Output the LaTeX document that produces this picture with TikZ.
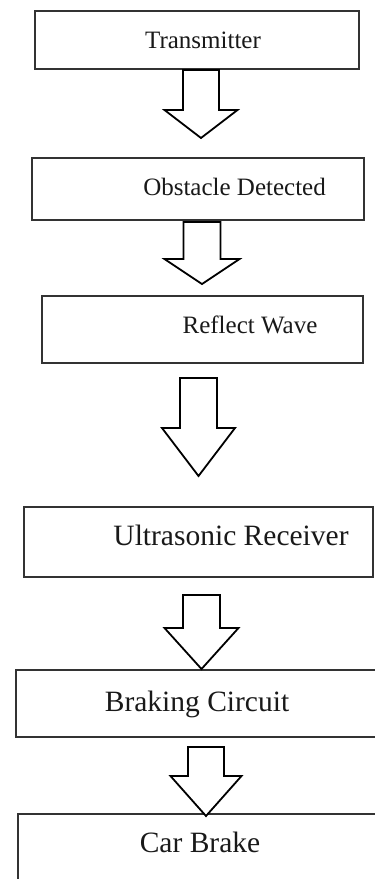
\documentclass[tikz,border=0pt]{standalone}
\usepackage{fontspec}
\setmainfont{Liberation Serif}
\tikzset{
  boxline/.style={draw=black!80, line width=1.3pt},
  blockarr/.style={draw=black, line width=1.8pt, line join=miter, fill=white},
  smalltxt/.style={font=\fontsize{25}{30}\selectfont, inner sep=0pt, text=black!90},
  bigtxt/.style={font=\fontsize{29.5}{34}\selectfont, inner sep=0pt, text=black!90}
}
% #1 name, #2 cx, #3 shaft half, #4 head half, #5 top, #6 shoulder, #7 tip
\newcommand{\myblockarrow}[7]{%
  \draw[blockarr] (#2-#3,#5) coordinate (#1top) -- (#2+#3,#5) -- (#2+#3,#6) -- (#2+#4,#6)
    -- (#2,#7) coordinate (#1tip) -- (#2-#4,#6) -- (#2-#3,#6) -- cycle;}
\begin{document}
\begin{tikzpicture}[x=1pt,y=-1pt]
\clip (0,0) rectangle (375,879);
\fill[white] (0,0) rectangle (375,879);
% boxes
\draw[boxline] (35,11) rectangle (359,69);
\draw[boxline] (32,158) rectangle (364,220);
\draw[boxline] (42,296) rectangle (363,363);
\draw[boxline] (24,507) rectangle (373,577);
\draw[boxline] (16,670) rectangle (385,737);
\draw[boxline] (18,814) rectangle (385,895);
% texts
\node[smalltxt, anchor=mid] (t1) at (203,46) {Transmitter};
\node[smalltxt, anchor=mid east] (t2) at (326,193) {Obstacle Detected};
\node[smalltxt, anchor=mid] (t3) at (250,331) {Reflect Wave};
\node[bigtxt, anchor=mid] (t4) at (231,543) {Ultrasonic Receiver};
\node[bigtxt, anchor=mid] (t5) at (197,709) {Braking Circuit};
\node[bigtxt, anchor=mid] (t6) at (200,850) {Car Brake};
% block arrows
\myblockarrow{a1}{201}{18}{36.5}{70}{110}{138}
\myblockarrow{a2}{202}{18.5}{37.5}{222}{259}{284}
\myblockarrow{a3}{198.5}{18.5}{36.5}{378}{428}{476}
\myblockarrow{a4}{201.5}{18.5}{37}{595}{628}{669}
\myblockarrow{a5}{206}{18}{35.5}{747}{776}{816}
\end{tikzpicture}
\end{document}
